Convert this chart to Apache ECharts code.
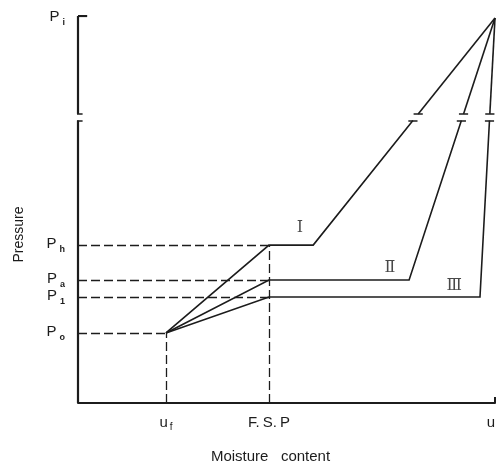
<!DOCTYPE html>
<html>
<head>
<meta charset="utf-8">
<script src="https://cdn.jsdelivr.net/npm/echarts@6/dist/echarts.min.js"></script>
<style>
  html, body { margin: 0; padding: 0; background: #fff; }
  #chart { width: 499px; height: 465px; }
</style>
</head>
<body>
<div id="chart"></div>
<script>
// Schematic: pressure vs. moisture content for three pressing paths (I, II, III)

// Moisture-content marks (relative units on the x axis)
const moistureMarks = [21.1, 45.8, 100];          // u_f, F.S.P, u
const moistureSubs  = ['f', '', ''];
const moistureNames = ['u', 'F.\u2009S.\u2009P', 'u'];

// Pressure levels (relative units on the y axis)
const pressureLevels = [18.1, 27.4, 31.8, 40.8, 99.5]; // P_o, P_1, P_a, P_h, P_i
const pressureSubs   = ['o', '1', 'a', 'h', 'i'];

// The three paths: plateau pressure and the moisture where the plateau ends
const curveNames      = ['Ⅰ', 'Ⅱ', 'Ⅲ'];
const plateauPressure = [40.8, 31.8, 27.4];
const plateauEnd      = [56.4, 79.4, 96.4];

// Axis break band on the pressure axis
const axisBreak = [73.0, 74.7];

// Curve tags, placed in data units
const curveTagX = [53.2, 74.8, 90.2];
const curveTagY = [45.2, 34.9, 30.2];

const INK = '#1c1c1c';
const uf = moistureMarks[0], fsp = moistureMarks[1], uMax = moistureMarks[2];
const Po = pressureLevels[0], Pi = pressureLevels[4];
const capHalf = 1.1;

// x on a straight segment at pressure y
function xAt(p, q, y) {
  return p[0] + (q[0] - p[0]) * (y - p[1]) / (q[1] - p[1]);
}

const solidSegs = [];
const capSegs = [];
curveNames.forEach((n, i) => {
  const a = [uf, Po], b = [fsp, plateauPressure[i]], c = [plateauEnd[i], plateauPressure[i]], d = [uMax, Pi];
  const lowX = xAt(c, d, axisBreak[0]);
  const highX = xAt(c, d, axisBreak[1]);
  solidSegs.push([a, b, c, [lowX, axisBreak[0]]]);
  solidSegs.push([[highX, axisBreak[1]], d]);
  capSegs.push([[lowX - capHalf, axisBreak[0]], [lowX + capHalf, axisBreak[0]]]);
  capSegs.push([[highX - capHalf, axisBreak[1]], [highX + capHalf, axisBreak[1]]]);
});

// pressure axis, drawn with its break
const axisSegs = [
  [[0, 0], [0, axisBreak[0]]],
  [[0, axisBreak[1]], [0, 100]],
  [[0, 100], [2.2, 100]]
];
capSegs.push([[-capHalf, axisBreak[0]], [capHalf, axisBreak[0]]]);
capSegs.push([[-capHalf, axisBreak[1]], [capHalf, axisBreak[1]]]);

// dashed guides
const dashSegs = [
  [[0, pressureLevels[3]], [fsp, pressureLevels[3]]],
  [[0, pressureLevels[2]], [fsp, pressureLevels[2]]],
  [[0, pressureLevels[1]], [fsp, pressureLevels[1]]],
  [[0, Po], [uf, Po]],
  [[uf, 0], [uf, Po]],
  [[fsp, 0], [fsp, pressureLevels[3]]]
];

const toLines = segs => segs.map(s => ({ coords: s }));

const chart = echarts.init(document.getElementById('chart'), null, { renderer: 'canvas' });
chart.setOption({
  animation: false,
  backgroundColor: '#fff',
  grid: { left: 78, right: 4, top: 16, bottom: 62, containLabel: false, outerBoundsMode: 'none' },
  xAxis: {
    type: 'value', min: 0, max: 100,
    splitLine: { show: false },
    axisLine: { show: true, lineStyle: { color: INK, width: 2 } },
    axisTick: { show: true, inside: true, length: 6, customValues: [100], lineStyle: { color: INK, width: 2 } },
    axisLabel: {
      customValues: moistureMarks,
      margin: 12,
      fontFamily: 'Liberation Sans', color: INK,
      formatter: v => {
        const i = moistureMarks.indexOf(v);
        if (i < 0) return '';
        if (moistureSubs[i]) return '{m|' + moistureNames[i] + '}{s|' + moistureSubs[i] + '}';
        if (i === 2) return '{e|' + moistureNames[i] + '}';
        return '{m|' + moistureNames[i] + '}';
      },
      rich: {
        m: { fontSize: 15, fontFamily: 'Liberation Sans', color: INK, verticalAlign: 'bottom', padding: [0, 0, 2, 0] },
        s: { fontSize: 10, fontFamily: 'Liberation Sans', color: INK, verticalAlign: 'bottom', padding: [0, 0, 0, 2] },
        e: { fontSize: 15, fontFamily: 'Liberation Sans', color: INK, padding: [0, 8, 0, 0] }
      }
    },
    name: 'Moisture   content',
    nameLocation: 'middle',
    nameGap: 46,
    nameMoveOverlap: false,
    nameTextStyle: { fontSize: 15, fontFamily: 'Liberation Sans', color: INK, padding: [0, 32, 0, 0] }
  },
  yAxis: {
    type: 'value', min: 0, max: 100,
    splitLine: { show: false },
    axisLine: { show: false },
    axisTick: { show: false },
    axisLabel: {
      customValues: pressureLevels,
      margin: 13,
      formatter: v => {
        const i = pressureLevels.indexOf(v);
        return i < 0 ? '' : '{p|P}{s|' + pressureSubs[i] + '}';
      },
      rich: {
        p: { fontSize: 15, fontFamily: 'Liberation Sans', color: INK, verticalAlign: 'bottom', padding: [0, 0, 3, 0] },
        s: { fontSize: 9, fontFamily: 'Liberation Sans', fontWeight: 'bold', color: INK, verticalAlign: 'bottom', padding: [0, 0, 0, 3] }
      }
    },
    name: 'Pressure',
    nameLocation: 'middle',
    nameGap: 52,
    nameMoveOverlap: false,
    nameTextStyle: { fontSize: 14, fontFamily: 'Liberation Sans', color: INK, padding: [0, 50, 0, 0] }
  },
  series: [
    {
      type: 'lines', coordinateSystem: 'cartesian2d', polyline: true, silent: true,
      lineStyle: { color: INK, width: 1.6, type: 'solid', opacity: 1 },
      data: toLines(solidSegs)
    },
    {
      type: 'lines', coordinateSystem: 'cartesian2d', polyline: true, silent: true,
      lineStyle: { color: INK, width: 2.2, type: 'solid', opacity: 1 },
      data: toLines(axisSegs)
    },
    {
      type: 'lines', coordinateSystem: 'cartesian2d', silent: true,
      lineStyle: { color: INK, width: 1.6, type: 'solid', opacity: 1 },
      data: toLines(capSegs)
    },
    {
      type: 'lines', coordinateSystem: 'cartesian2d', silent: true,
      lineStyle: { color: INK, width: 1.3, type: [9, 4], opacity: 1 },
      data: toLines(dashSegs)
    },
    {
      type: 'scatter', silent: true, symbolSize: 0,
      data: curveNames.map((n, i) => ({ value: [curveTagX[i], curveTagY[i]], name: n })),
      label: {
        show: true, position: 'inside', formatter: p => p.name,
        fontSize: 16, fontFamily: 'DejaVu Serif', color: INK
      }
    }
  ]
});
</script>
</body>
</html>
